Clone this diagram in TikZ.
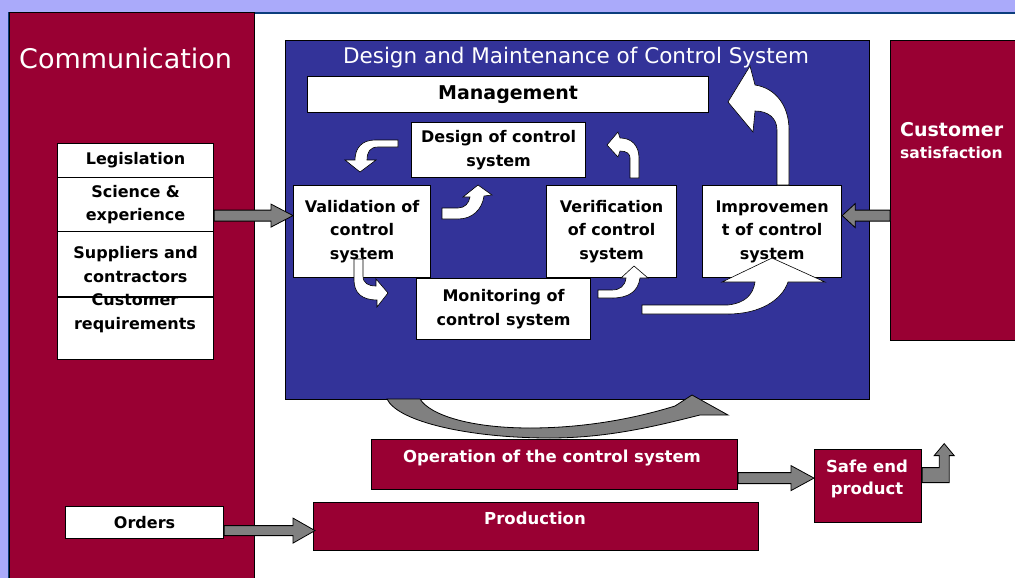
\documentclass[tikz,border=0pt]{standalone}
\usepackage{fontspec}
\setmainfont{DejaVu Sans}
\usetikzlibrary{calc}
\definecolor{lav}{RGB}{170,170,250}
\definecolor{dkblue}{RGB}{12,62,125}
\definecolor{maroon}{RGB}{153,0,51}
\definecolor{panelblue}{RGB}{51,51,153}
\definecolor{arrgray}{RGB}{128,128,128}
\newcommand\grayarrow[5]{%
  \coordinate (hb) at ($(#2)!#5!(#1)$);
  \draw[garrow] ($(#1)!#3!90:(#2)$) -- ($(hb)!#3!90:(#2)$) -- ($(hb)!#4!90:(#2)$)
    -- (#2) -- ($(hb)!#4!-90:(#2)$) -- ($(hb)!#3!-90:(#2)$) -- ($(#1)!#3!-90:(#2)$) -- cycle;}
\tikzset{
  wbox/.style={draw=black, line width=1.2pt, fill=white, align=center, inner sep=0pt,
    anchor=north west, font=\fontsize{16}{23.5}\selectfont\bfseries},
  mbox/.style={draw=black, line width=1.2pt, fill=maroon, inner sep=0pt, anchor=north west},
  bpanel/.style={draw=black, line width=1.2pt, fill=panelblue, inner sep=0pt, anchor=north west},
  wtext/.style={text=white, inner sep=0pt, align=center, font=\fontsize{16.5}{22}\selectfont\bfseries},
  btext/.style={text=black, inner sep=0pt, align=center, font=\fontsize{16}{24.5}\selectfont\bfseries},
  garrow/.style={fill=arrgray, draw=black, line width=0.8pt, line join=miter},
  warrow/.style={fill=white, draw=black, line width=0.6pt, line join=miter},
}
\begin{document}
\begin{tikzpicture}[x=1pt,y=-1pt]
\useasboundingbox (0,0) rectangle (1015,578);
% background
\fill[lav] (0,0) rectangle (1015,578);
\fill[white] (8,12) rectangle (1015,578);
\draw[dkblue, line width=2pt] (9,578) -- (9,13) -- (1015,13);
% Communication panel
\node[mbox, minimum width=245pt, minimum height=567pt] (comm) at (9,12) {};
\node[text=white, inner sep=0pt, anchor=west, font=\fontsize{27}{30}\selectfont] (commtxt) at (19,58) {Communication};
% Design panel
\node[bpanel, minimum width=584pt, minimum height=359pt] (panel) at (285,40) {};
\node[text=white, inner sep=0pt, font=\fontsize{21.5}{24}\selectfont] (title) at (576,58) {Design and Maintenance of Control System};
\node[wbox, minimum width=401pt, minimum height=36pt, font=\fontsize{19}{22}\selectfont\bfseries] (mgmt) at (307,76) {Management};
\node[wbox, minimum width=174pt, minimum height=55pt] (design) at (411,122) {Design of control\\system};
\node[wbox, minimum width=137pt, minimum height=92pt] (valid) at (293,185) {Validation of\\control\\system};
\node[wbox, minimum width=130pt, minimum height=92pt] (verif) at (546,185) {Verification\\of control\\system};
\node[wbox, minimum width=139pt, minimum height=92pt] (impr) at (702,185) {Improvemen\\t of control\\system};
\node[wbox, minimum width=174pt, minimum height=61pt] (monit) at (416,278) {Monitoring of\\control system};
% Customer satisfaction
\node[mbox, minimum width=127pt, minimum height=300pt] (csat) at (890,40) {};
\node[text=white, inner sep=0pt, anchor=west, font=\fontsize{19}{22}\selectfont\bfseries] (csat1) at (900,130) {Customer};
\node[text=white, inner sep=0pt, anchor=west, font=\fontsize{15.5}{20}\selectfont\bfseries] (csat2) at (900,153) {satisfaction};
% left list
\node[wbox, minimum width=156pt, minimum height=34pt] (leg) at (57,143) {Legislation};
\node[wbox, minimum width=156pt, minimum height=54pt] (sci) at (57,177) {Science \&\\experience};
\node[wbox, minimum width=156pt, minimum height=66pt] (sup) at (57,231) {Suppliers and\\contractors};
\node[wbox, minimum width=156pt, minimum height=62pt] (creq) at (57,297) {};
\node[btext] (creqtxt) at (135,313) {Customer\\requirements};
\draw[line width=1.2pt] (creq.north west) -- (creq.north east);
% bottom boxes
\node[mbox, minimum width=366pt, minimum height=50pt] (op) at (371,439) {};
\node[wtext] (optxt) at (552,458) {Operation of the control system};
\node[mbox, minimum width=445pt, minimum height=48pt] (prod) at (313,502) {};
\node[wtext] (prodtxt) at (535,518) {Production};
\node[wbox, minimum width=158pt, minimum height=32pt] (ord) at (65,506) {Orders};
\node[mbox, minimum width=107pt, minimum height=73pt] (safe) at (814,449) {};
\node[wtext] (safetxt) at (867,479) {Safe end\\product};
% gray arrows
\coordinate (a1s) at ([yshift=-11pt]sci.east);
\coordinate (a1t) at (valid.west |- a1s);
\grayarrow{a1s}{a1t}{5.5pt}{11.5pt}{22pt}
\coordinate (a2t) at ([yshift=16pt]impr.east);
\coordinate (a2s) at (csat.west |- a2t);
\grayarrow{a2s}{a2t}{5.5pt}{12pt}{13pt}
\coordinate (a3s) at ([yshift=-8pt]ord.east);
\coordinate (a3t) at ([xshift=2pt]prod.west |- a3s);
\grayarrow{a3s}{a3t}{5pt}{12.5pt}{22pt}
\coordinate (a4s) at ([yshift=-13.5pt]op.east);
\coordinate (a4t) at (safe.west |- a4s);
\grayarrow{a4s}{a4t}{5.5pt}{12.5pt}{23pt}
\draw[garrow] ([yshift=18.5pt]safe.east) -- ++(17,0) -- ++(0,-12) -- ++(-5,0) -- ++(10,-12)
  -- ++(10,12) -- ++(-5,0) -- ++(0,27) -- ++(-27,0) -- cycle;
% curved gray arrow under the panel
\draw[garrow] (387,399) .. controls (398,422) and (470,438) .. (550,438)
  .. controls (610,438) and (660,425) .. (700,415) -- (728,415) -- (692,395) -- (675,406)
  .. controls (630,420) and (580,428) .. (530,428)
  .. controls (470,428) and (430,415) .. (420,399) -- cycle;
% white arrows inside the panel
\draw[warrow] (398,140) -- (375,140) .. controls (362,140) and (355,148) .. (355,160)
  -- (345,160) -- (360,172) -- (376,160) -- (367,160)
  .. controls (367,152) and (370,147) .. (378,147) -- (398,147) -- cycle;
\draw[warrow] (442,208) -- (458,208) .. controls (465,208) and (469,203) .. (470,197)
  -- (463,197) -- (478,185) -- (492,195) -- (484,196)
  .. controls (482,210) and (472,219) .. (458,219) -- (442,219) -- cycle;
\draw[warrow] (354,259) -- (363,259) -- (363,276) .. controls (363,283) and (368,286) .. (376,286)
  -- (376,279) -- (388,293) -- (377,307) -- (377,300)
  .. controls (362,300) and (354,293) .. (354,280) -- cycle;
\draw[warrow] (598,290) -- (612,290) .. controls (620,290) and (625,286) .. (626,278)
  -- (621,278) -- (634,266) -- (648,278) -- (640,278)
  .. controls (638,292) and (628,298) .. (612,298) -- (598,298) -- cycle;
\draw[warrow] (630,178) -- (630,158) .. controls (630,154) and (627,151) .. (620,151)
  -- (618,157) -- (607,145) -- (618,132) -- (620,138)
  .. controls (632,138) and (639,146) .. (639,158) -- (639,178) -- cycle;
\draw[warrow] (777,185) -- (777,130) .. controls (777,118) and (768,111) .. (755,111)
  -- (753,132) -- (728,102) -- (750,66) -- (755,85)
  .. controls (775,88) and (789,105) .. (789,130) -- (789,185) -- cycle;
\draw[warrow] (642,305) -- (728,305) .. controls (745,303) and (753,295) .. (755,282)
  -- (722,282) -- (772,258) -- (825,282) -- (788,282)
  .. controls (782,300) and (760,314) .. (728,314) -- (642,314) -- cycle;
\end{tikzpicture}
\end{document}
